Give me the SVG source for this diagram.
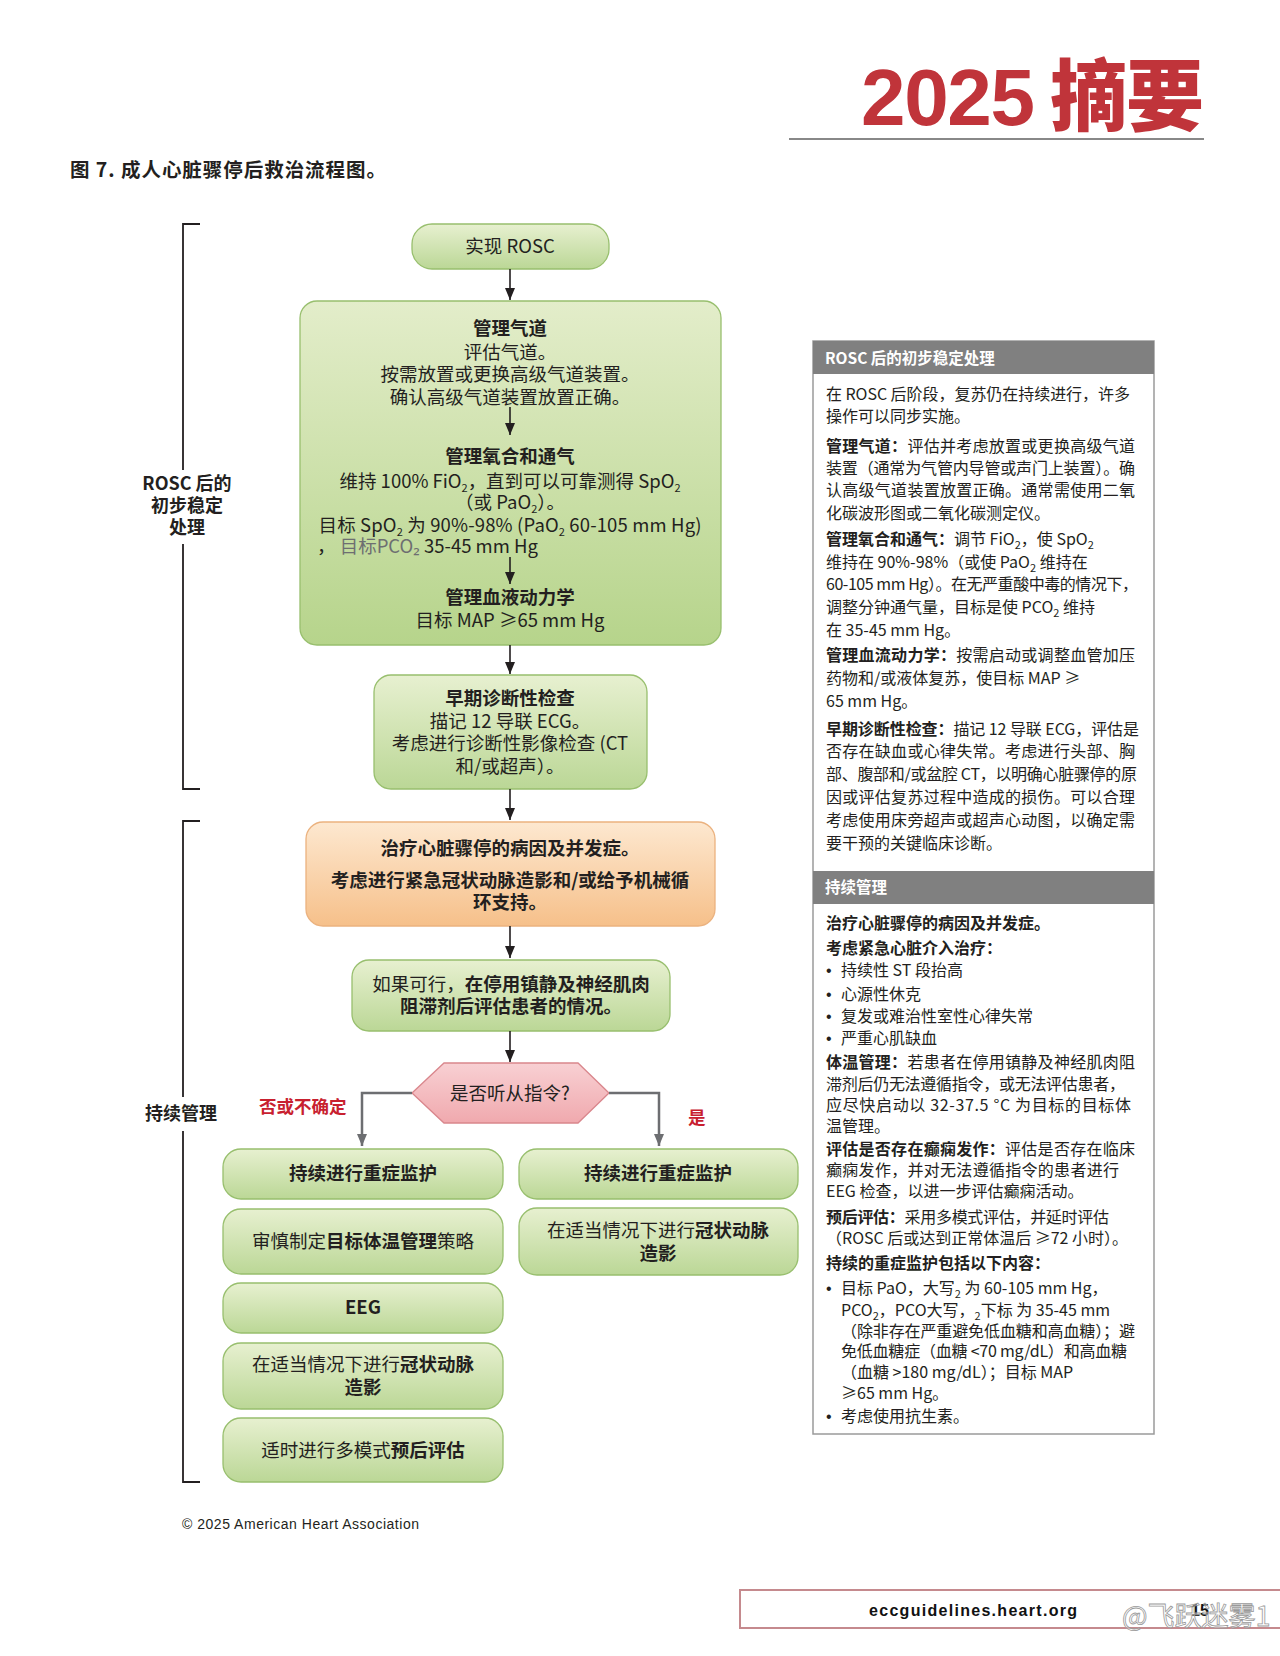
<svg xmlns="http://www.w3.org/2000/svg" width="1280" height="1656" viewBox="0 0 1280 1656">
<style>
.t{font-family:"Noto Sans CJK SC","Noto Sans",sans-serif;fill:#231f20}
.f{font-size:18.5px}
.p{font-size:16px}
.b{font-weight:700}
.c{text-anchor:middle}
.s{font-size:11px}
.bu{font-family:"Liberation Sans",sans-serif;font-size:16px;fill:#231f20}
.ln{stroke:#231f20;stroke-width:1.6;fill:none}
.gl{stroke:#6d6e71;stroke-width:2.5;fill:none}
.gbox{fill:url(#gSmall);stroke:#98bf6e;stroke-width:1.3}
.hd{fill:#808080}
.ht{font-family:"Noto Sans CJK SC",sans-serif;font-size:15.5px;font-weight:700;fill:#fff}
.red{fill:#c8202f;font-weight:700;font-size:17.5px}
</style>
<defs>
<linearGradient id="gBig" x1="0" y1="0" x2="0" y2="1"><stop offset="0" stop-color="#e3edca"/><stop offset="1" stop-color="#b6d48b"/></linearGradient>
<linearGradient id="gSmall" x1="0" y1="0" x2="0" y2="1"><stop offset="0" stop-color="#e7f0d0"/><stop offset="1" stop-color="#bbd796"/></linearGradient>
<linearGradient id="gOr" x1="0" y1="0" x2="0" y2="1"><stop offset="0" stop-color="#fde8d0"/><stop offset="1" stop-color="#f6c08a"/></linearGradient>
<linearGradient id="gHex" x1="0" y1="0" x2="0" y2="1"><stop offset="0" stop-color="#f8d0d3"/><stop offset="1" stop-color="#f0a9ae"/></linearGradient>
<marker id="ah" viewBox="0 0 12 10" refX="12" refY="5" markerWidth="12" markerHeight="10" markerUnits="userSpaceOnUse" orient="auto"><path d="M0,0 L12,5 L0,10 Z" fill="#231f20"/></marker>
<marker id="ahg" viewBox="0 0 12 10" refX="12" refY="5" markerWidth="12" markerHeight="10" markerUnits="userSpaceOnUse" orient="auto"><path d="M0,0 L12,5 L0,10 Z" fill="#6d6e71"/></marker>
</defs>
<rect width="1280" height="1656" fill="#fff"/>

<g id="header">
<text x="861" y="125" font-family="Liberation Sans,sans-serif" font-weight="700" font-size="80" fill="#c0343a" textLength="174">2025</text>
<text x="1050" y="125" font-family="Noto Sans CJK SC,sans-serif" font-weight="900" font-size="78" fill="#c0343a" textLength="154">摘要</text>
<line x1="789" y1="139" x2="1204" y2="139" stroke="#888" stroke-width="2"/>
<text class="t b" x="70" y="177" font-size="19.5" textLength="316">图 7. 成人心脏骤停后救治流程图。</text>
</g>

<g id="brackets">
<path d="M200,224 H183 V470 M183,544 V789 H200" stroke="#231f20" stroke-width="1.8" fill="none"/>
<text class="t b c" font-size="18" x="187" y="490">ROSC 后的</text>
<text class="t b c" font-size="18" x="187" y="512">初步稳定</text>
<text class="t b c" font-size="18" x="187" y="534">处理</text>
<path d="M200,821 H183 V1097 M183,1131 V1482 H200" stroke="#231f20" stroke-width="1.8" fill="none"/>
<text class="t b c" font-size="18" x="181" y="1120">持续管理</text>
</g>

<g id="n-rosc">
<rect x="412" y="224" width="197" height="45" rx="20" class="gbox"/>
<text class="t f c" x="510" y="253">实现 ROSC</text>
</g>

<g id="n-big">
<rect x="300" y="301" width="421" height="344" rx="17" fill="url(#gBig)" stroke="#98bf6e" stroke-width="1.3"/>
<text class="t f c b" x="510" y="335">管理气道</text>
<text class="t f c" x="510" y="359">评估气道。</text>
<text class="t f c" x="510" y="381">按需放置或更换高级气道装置。</text>
<text class="t f c" x="510" y="404">确认高级气道装置放置正确。</text>
<text class="t f c b" x="510" y="463">管理氧合和通气</text>
<text class="t f c" x="510" y="488" textLength="341">维持 100% FiO<tspan class="s" dy="4">2</tspan><tspan dy="-4">，直到可以可靠测得 SpO</tspan><tspan class="s" dy="4">2</tspan></text>
<text class="t f c" x="510" y="509">（或 PaO<tspan class="s" dy="4">2</tspan><tspan dy="-4">）。</tspan></text>
<text class="t f c" x="510" y="532" textLength="383">目标 SpO<tspan class="s" dy="4">2</tspan><tspan dy="-4"> 为 90%-98% (PaO</tspan><tspan class="s" dy="4">2</tspan><tspan dy="-4"> 60-105 mm Hg)</tspan></text>
<text class="t f" x="317" y="553">，<tspan fill="#6d6e71"> 目标PCO₂</tspan> 35-45 mm Hg</text>
<text class="t f c b" x="510" y="604">管理血液动力学</text>
<text class="t f c" x="510" y="627">目标 MAP ≥65 mm Hg</text>
</g>

<g id="n-diag">
<rect x="374" y="675" width="273" height="114" rx="17" class="gbox"/>
<text class="t f c b" x="510" y="705">早期诊断性检查</text>
<text class="t f c" x="510" y="728">描记 12 导联 ECG。</text>
<text class="t f c" x="510" y="750">考虑进行诊断性影像检查 (CT</text>
<text class="t f c" x="510" y="773">和/或超声）。</text>
</g>

<g id="n-treat">
<rect x="306" y="822" width="409" height="104" rx="17" fill="url(#gOr)" stroke="#ebb27f" stroke-width="1.3"/>
<text class="t f c b" x="510" y="855">治疗心脏骤停的病因及并发症。</text>
<text class="t f c b" x="510" y="887">考虑进行紧急冠状动脉造影和/或给予机械循</text>
<text class="t f c b" x="510" y="909">环支持。</text>
</g>

<g id="n-assess">
<rect x="352" y="960" width="318" height="71" rx="17" class="gbox"/>
<text class="t f c" x="511" y="991">如果可行，<tspan class="b">在停用镇静及神经肌肉</tspan></text>
<text class="t f c b" x="511" y="1013">阻滞剂后评估患者的情况。</text>
</g>

<g id="n-decision">
<polygon points="412,1093 444,1063 578,1063 609,1093 578,1123 444,1123" fill="url(#gHex)" stroke="#d9868c" stroke-width="1.3"/>
<text class="t f c" x="510" y="1100">是否听从指令?</text>
</g>

<g id="n-left-monitor">
<rect x="223" y="1149" width="280" height="50" rx="18" class="gbox"/>
<text class="t f c b" x="363" y="1180">持续进行重症监护</text>
</g>
<g id="n-left-ttm">
<rect x="223" y="1209" width="280" height="65" rx="18" class="gbox"/>
<text class="t f c" x="363" y="1248">审慎制定<tspan class="b">目标体温管理</tspan>策略</text>
</g>
<g id="n-left-eeg">
<rect x="223" y="1283" width="280" height="50" rx="18" class="gbox"/>
<text class="t f c b" x="363" y="1314">EEG</text>
</g>
<g id="n-left-cag">
<rect x="223" y="1343" width="280" height="66" rx="18" class="gbox"/>
<text class="t f c" x="363" y="1371">在适当情况下进行<tspan class="b">冠状动脉</tspan></text>
<text class="t f c b" x="363" y="1394">造影</text>
</g>
<g id="n-left-prog">
<rect x="223" y="1418" width="280" height="64" rx="18" class="gbox"/>
<text class="t f c" x="363" y="1457">适时进行多模式<tspan class="b">预后评估</tspan></text>
</g>
<g id="n-right-monitor">
<rect x="519" y="1149" width="279" height="50" rx="18" class="gbox"/>
<text class="t f c b" x="658" y="1180">持续进行重症监护</text>
</g>
<g id="n-right-cag">
<rect x="519" y="1208" width="279" height="67" rx="18" class="gbox"/>
<text class="t f c" x="658" y="1237">在适当情况下进行<tspan class="b">冠状动脉</tspan></text>
<text class="t f c b" x="658" y="1260">造影</text>
</g>

<g id="connectors">
<line class="ln" x1="510" y1="269" x2="510" y2="300" marker-end="url(#ah)"/>
<line class="ln" x1="510" y1="407" x2="510" y2="435" marker-end="url(#ah)"/>
<line class="ln" x1="510" y1="557" x2="510" y2="584" marker-end="url(#ah)"/>
<line class="ln" x1="510" y1="645" x2="510" y2="674" marker-end="url(#ah)"/>
<line class="ln" x1="510" y1="789" x2="510" y2="820" marker-end="url(#ah)"/>
<line class="ln" x1="510" y1="926" x2="510" y2="958" marker-end="url(#ah)"/>
<line class="ln" x1="510" y1="1031" x2="510" y2="1062" marker-end="url(#ah)"/>
<path class="gl" d="M412,1093 H362 V1146" marker-end="url(#ahg)"/>
<path class="gl" d="M609,1093 H659 V1146" marker-end="url(#ahg)"/>
<text class="t red" x="259" y="1113">否或不确定</text>
<text class="t red" x="688" y="1124">是</text>
</g>

<g id="panel">
<rect x="813" y="341" width="341" height="1093" fill="#fff" stroke="#9a9a9a" stroke-width="1.5"/>
<rect x="813" y="341" width="341" height="33" class="hd"/>
<text class="ht" x="825" y="364">ROSC 后的初步稳定处理</text>
<text class="t p" x="826" y="400" textLength="304">在 ROSC 后阶段，复苏仍在持续进行，许多</text>
<text class="t p" x="826" y="422">操作可以同步实施。</text>
<text class="t p" x="826" y="452" textLength="309"><tspan class="b">管理气道：</tspan>评估并考虑放置或更换高级气道</text>
<text class="t p" x="826" y="474" textLength="309">装置（通常为气管内导管或声门上装置）。确</text>
<text class="t p" x="826" y="496" textLength="309">认高级气道装置放置正确。通常需使用二氧</text>
<text class="t p" x="826" y="519">化碳波形图或二氧化碳测定仪。</text>
<text class="t p" x="826" y="545"><tspan class="b">管理氧合和通气：</tspan>调节 FiO<tspan class="s" dy="4">2</tspan><tspan dy="-4">，使 SpO</tspan><tspan class="s" dy="4">2</tspan></text>
<text class="t p" x="826" y="568">维持在 90%-98%（或使 PaO<tspan class="s" dy="4">2</tspan><tspan dy="-4"> 维持在</tspan></text>
<text class="t p" x="826" y="590" textLength="312">60-105 mm Hg）。在无严重酸中毒的情况下，</text>
<text class="t p" x="826" y="613">调整分钟通气量，目标是使 PCO<tspan class="s" dy="4">2</tspan><tspan dy="-4"> 维持</tspan></text>
<text class="t p" x="826" y="636">在 35-45 mm Hg。</text>
<text class="t p" x="826" y="661" textLength="309"><tspan class="b">管理血流动力学：</tspan>按需启动或调整血管加压</text>
<text class="t p" x="826" y="684">药物和/或液体复苏，使目标 MAP ≥</text>
<text class="t p" x="826" y="707">65 mm Hg。</text>
<text class="t p" x="826" y="735" textLength="313"><tspan class="b">早期诊断性检查：</tspan>描记 12 导联 ECG，评估是</text>
<text class="t p" x="826" y="757" textLength="309">否存在缺血或心律失常。考虑进行头部、胸</text>
<text class="t p" x="826" y="780" textLength="311">部、腹部和/或盆腔 CT，以明确心脏骤停的原</text>
<text class="t p" x="826" y="803" textLength="309">因或评估复苏过程中造成的损伤。可以合理</text>
<text class="t p" x="826" y="826" textLength="309">考虑使用床旁超声或超声心动图，以确定需</text>
<text class="t p" x="826" y="849">要干预的关键临床诊断。</text>

<rect x="813" y="871" width="341" height="33" class="hd"/>
<text class="ht" x="825" y="893">持续管理</text>
<text class="t p b" x="826" y="929">治疗心脏骤停的病因及并发症。</text>
<text class="t p b" x="826" y="954">考虑紧急心脏介入治疗：</text>
<text class="bu" x="826" y="976">•</text><text class="t p" x="841" y="976">持续性 ST 段抬高</text>
<text class="bu" x="826" y="1000">•</text><text class="t p" x="841" y="1000">心源性休克</text>
<text class="bu" x="826" y="1022">•</text><text class="t p" x="841" y="1022">复发或难治性室性心律失常</text>
<text class="bu" x="826" y="1044">•</text><text class="t p" x="841" y="1044">严重心肌缺血</text>
<text class="t p" x="826" y="1068" textLength="309"><tspan class="b">体温管理：</tspan>若患者在停用镇静及神经肌肉阻</text>
<text class="t p" x="826" y="1090" textLength="299">滞剂后仍无法遵循指令，或无法评估患者，</text>
<text class="t p" x="826" y="1111" textLength="305">应尽快启动以 32-37.5 °C 为目标的目标体</text>
<text class="t p" x="826" y="1132">温管理。</text>
<text class="t p" x="826" y="1155" textLength="309"><tspan class="b">评估是否存在癫痫发作：</tspan>评估是否存在临床</text>
<text class="t p" x="826" y="1176" textLength="293">癫痫发作，并对无法遵循指令的患者进行</text>
<text class="t p" x="826" y="1197">EEG 检查，以进一步评估癫痫活动。</text>
<text class="t p" x="826" y="1223" textLength="283"><tspan class="b">预后评估：</tspan>采用多模式评估，并延时评估</text>
<text class="t p" x="826" y="1244" textLength="302">（ROSC 后或达到正常体温后 ≥72 小时）。</text>
<text class="t p b" x="826" y="1269">持续的重症监护包括以下内容：</text>
<text class="bu" x="826" y="1294">•</text><text class="t p" x="841" y="1294">目标 PaO，大写<tspan class="s" dy="4">2</tspan><tspan dy="-4"> 为 60-105 mm Hg，</tspan></text>
<text class="t p" x="841" y="1316">PCO<tspan class="s" dy="4">2</tspan><tspan dy="-4">，PCO大写，</tspan><tspan class="s" dy="4">2</tspan><tspan dy="-4">下标 为 35-45 mm</tspan></text>
<text class="t p" x="841" y="1337" textLength="294">（除非存在严重避免低血糖和高血糖）；避</text>
<text class="t p" x="841" y="1357" textLength="286">免低血糖症（血糖 &lt;70 mg/dL）和高血糖</text>
<text class="t p" x="841" y="1378">（血糖 &gt;180 mg/dL）；目标 MAP</text>
<text class="t p" x="841" y="1399">≥65 mm Hg。</text>
<text class="bu" x="826" y="1422">•</text><text class="t p" x="841" y="1422">考虑使用抗生素。</text>
</g>

<g id="footer">
<text x="182" y="1529" font-family="Liberation Sans,sans-serif" font-size="14" fill="#231f20" textLength="237">© 2025 American Heart Association</text>
<rect x="740" y="1590" width="560" height="38" fill="none" stroke="#c58a8e" stroke-width="2"/>
<text x="869" y="1616" font-family="Liberation Sans,sans-serif" font-weight="700" font-size="16" fill="#111" textLength="208">eccguidelines.heart.org</text>
<text x="1191" y="1616" font-family="Liberation Sans,sans-serif" font-weight="700" font-size="16" fill="#111">15</text>
<text x="1122" y="1626" font-family="Noto Sans CJK SC,sans-serif" font-size="27" fill="#fff" fill-opacity="0.4" stroke="#9a9a9a" stroke-width="0.8">@飞跃迷雾1</text>
</g>
</svg>
